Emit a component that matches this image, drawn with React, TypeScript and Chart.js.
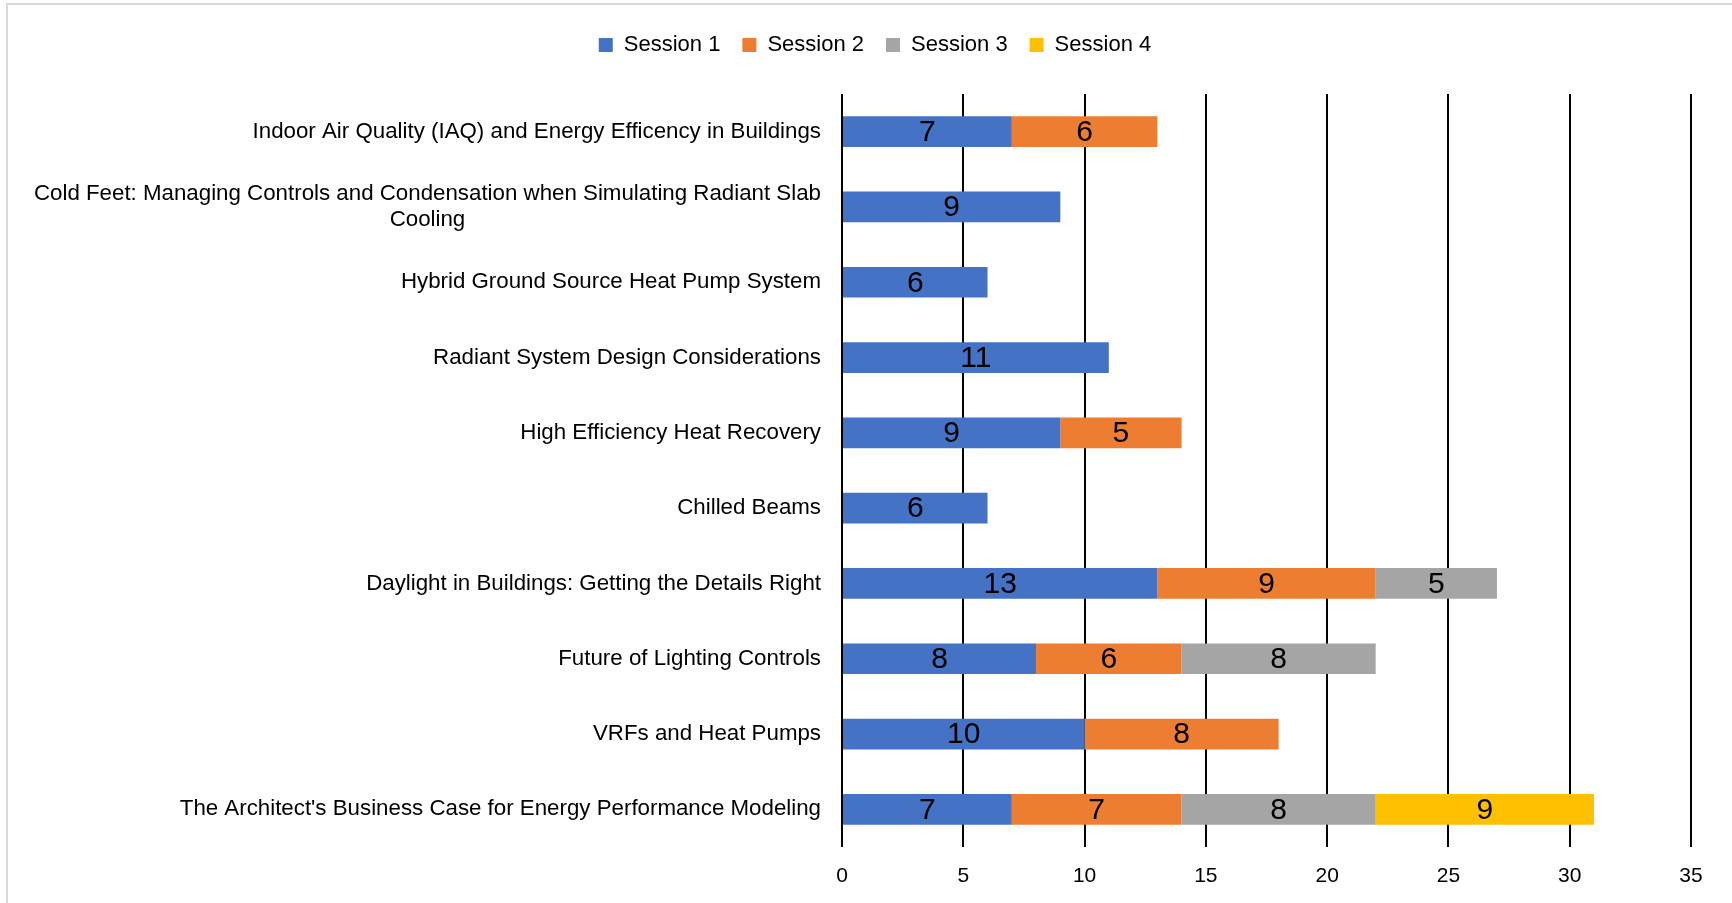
import React, { useEffect, useRef } from "react";
import { Chart, registerables } from "chart.js";

Chart.register(...registerables);

const FONT = "'Liberation Sans', Arial, sans-serif";

// Talk titles, top to bottom; multi-line titles are given as arrays of lines.
const categories: (string | string[])[] = [
  "Indoor Air Quality (IAQ) and Energy Efficency in Buildings",
  ["Cold Feet: Managing Controls and Condensation when Simulating Radiant Slab", "Cooling"],
  "Hybrid Ground Source Heat Pump System",
  "Radiant System Design Considerations",
  "High Efficiency Heat Recovery",
  "Chilled Beams",
  "Daylight in Buildings: Getting the Details Right",
  "Future of Lighting Controls",
  "VRFs and Heat Pumps",
  "The Architect's Business Case for Energy Performance Modeling",
];

const seriesNames = ["Session 1", "Session 2", "Session 3", "Session 4"];
const seriesColors = ["#4472C4", "#ED7D31", "#A5A5A5", "#FFC000"];

const session1 = [7, 9, 6, 11, 9, 6, 13, 8, 10, 7];
const session2 = [6, null, null, null, 5, null, 9, 6, 8, 7];
const session3 = [null, null, null, null, null, null, 5, 8, null, 8];
const session4 = [null, null, null, null, null, null, null, null, null, 9];

const xMin = 0;
const xMax = 35;
const xStep = 5;

// layout constants (pixels)
const PAD_LEFT = 59;
const PAD_TOP = 12;
const PAD_RIGHT = 41;
const AXIS_LEFT = 842;
const PLOT_TOP = 94;
const PLOT_BOTTOM = 847;
const CANVAS_W = 1732;
const CANVAS_H = 903;
const LABEL_GAP = 21;
const LABEL_LINE_H = 26.5;
const LABEL_FONT_SIZE = 22.3;

const categoryLabels = {
  id: "categoryLabels",
  afterDraw(chart: any) {
    const yScale = chart.scales.y;
    const ctx = chart.ctx;
    ctx.save();
    ctx.font = `${LABEL_FONT_SIZE}px ${FONT}`;
    ctx.fillStyle = "#000";
    ctx.textBaseline = "middle";
    ctx.textAlign = "center";
    const right = chart.chartArea.left - LABEL_GAP;
    categories.forEach((lab, i) => {
      const lines = Array.isArray(lab) ? lab : [lab];
      const cy = yScale.getPixelForValue(i);
      const blockW = Math.max(...lines.map((l) => ctx.measureText(l).width));
      const cx = right - blockW / 2;
      lines.forEach((l, k) => {
        ctx.fillText(l, cx, cy + (k - (lines.length - 1) / 2) * LABEL_LINE_H);
      });
    });
    ctx.restore();
  },
};

const valueLabels = {
  id: "valueLabels",
  afterDatasetsDraw(chart: any) {
    const ctx = chart.ctx;
    ctx.save();
    ctx.font = `30px ${FONT}`;
    ctx.fillStyle = "#000";
    ctx.textAlign = "center";
    ctx.textBaseline = "middle";
    chart.data.datasets.forEach((ds: any, di: number) => {
      const meta = chart.getDatasetMeta(di);
      meta.data.forEach((bar: any, i: number) => {
        const v = ds.data[i];
        if (v == null) return;
        const { x, y, base } = bar.getProps(["x", "y", "base"], true);
        ctx.fillText(String(v), (x + base) / 2, y + 1);
      });
    });
    ctx.restore();
  },
};

const legendSpace = {
  id: "legendSpace",
  afterInit(chart: any) {
    const legend = chart.legend;
    if (!legend) return;
    const orig = legend.fit;
    legend.fit = function () {
      orig.call(this);
      this.height = PLOT_TOP - PAD_TOP;
    };
  },
};

export default function App() {
  const canvasRef = useRef<HTMLCanvasElement | null>(null);

  useEffect(() => {
    if (!canvasRef.current) return;
    const series = [session1, session2, session3, session4];
    const chart = new Chart(canvasRef.current, {
      type: "bar",
      data: {
        labels: categories.map((c) => (Array.isArray(c) ? c.join(" ") : c)),
        datasets: series.map((data, i) => ({
          label: seriesNames[i],
          data,
          backgroundColor: seriesColors[i],
          borderWidth: 0,
          categoryPercentage: 1,
          barPercentage: 0.408,
        })),
      },
      options: {
        indexAxis: "y",
        responsive: false,
        animation: false,
        devicePixelRatio: 1,
        layout: {
          padding: { left: PAD_LEFT, top: PAD_TOP, right: PAD_RIGHT, bottom: 0 },
        },
        scales: {
          x: {
            stacked: true,
            min: xMin,
            max: xMax,
            ticks: {
              stepSize: xStep,
              font: { size: 21, family: FONT },
              color: "#000",
              padding: 17,
            },
            grid: { color: "#000", lineWidth: 2, drawTicks: false },
            border: { display: false },
            afterFit(scale: any) {
              scale.height = CANVAS_H - PLOT_BOTTOM;
            },
          },
          y: {
            stacked: true,
            ticks: { display: false },
            grid: { display: false },
            border: { display: false },
            afterFit(scale: any) {
              scale.width = AXIS_LEFT - PAD_LEFT;
            },
          },
        },
        plugins: {
          legend: {
            position: "top",
            labels: {
              boxWidth: 14,
              boxHeight: 14,
              padding: 22,
              color: "#000",
              font: { size: 22, family: FONT },
            },
          },
          tooltip: { enabled: false },
        },
      },
      plugins: [legendSpace, categoryLabels, valueLabels],
    });
    return () => chart.destroy();
  }, []);

  return (
    <div
      style={{
        position: "fixed",
        left: 0,
        top: 0,
        width: CANVAS_W,
        height: CANVAS_H,
        background: "#fff",
        overflow: "hidden",
      }}
    >
      <div
        style={{
          position: "absolute",
          left: 6,
          top: 3,
          width: CANVAS_W + 20,
          height: CANVAS_H + 20,
          border: "2px solid #d9d9d9",
          boxSizing: "border-box",
        }}
      />
      <canvas
        ref={canvasRef}
        width={CANVAS_W}
        height={CANVAS_H}
        style={{ position: "absolute", left: 0, top: 0, width: CANVAS_W, height: CANVAS_H }}
      />
    </div>
  );
}
